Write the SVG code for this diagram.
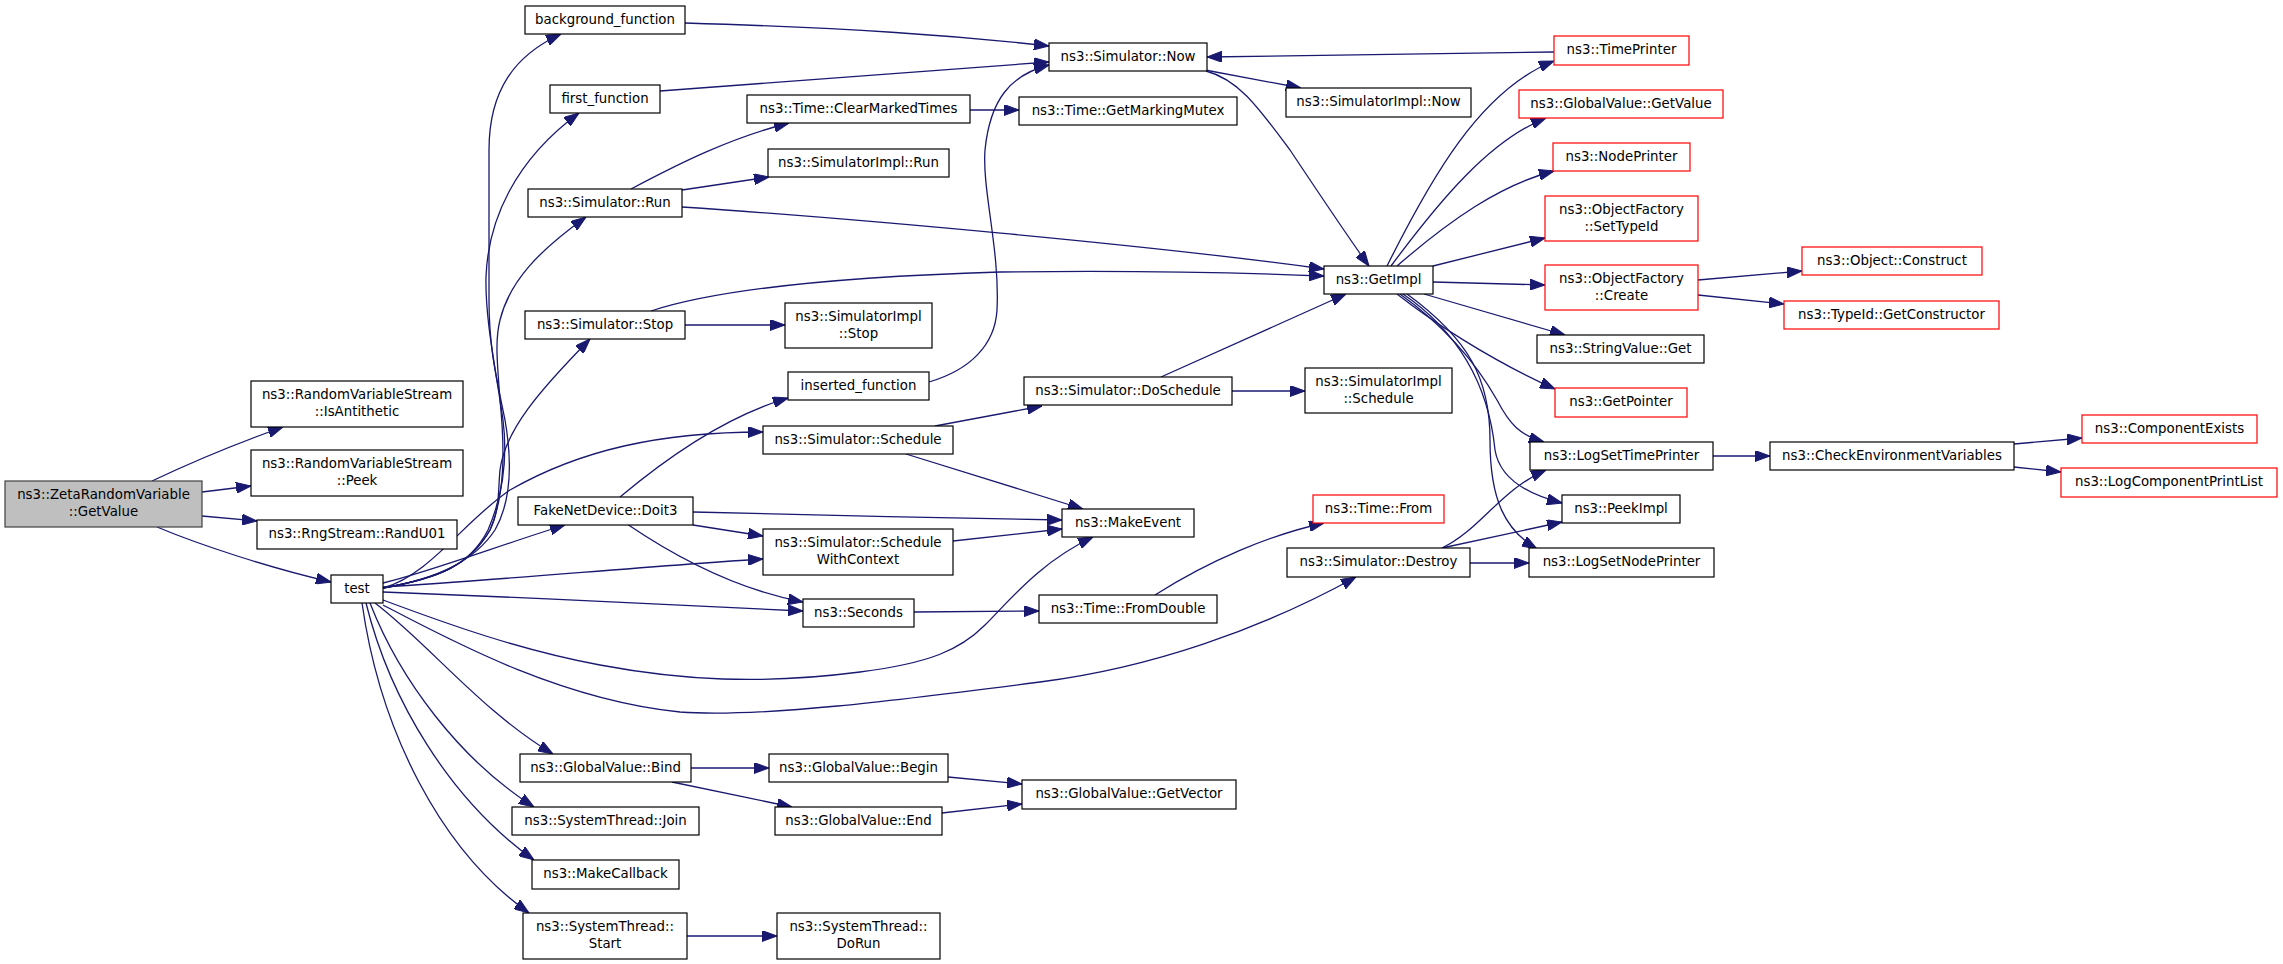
<svg xmlns="http://www.w3.org/2000/svg" width="2283" height="964" viewBox="0 0 2283 964">
<defs>
<style>
.n rect{fill:#ffffff;stroke:#000000;stroke-width:1.2}
.n.r rect{stroke:#ff0000}
.n.g rect{fill:#bfbfbf;stroke:#404040}
.n text{font-family:"DejaVu Sans","Liberation Sans",sans-serif;font-size:13.33px;fill:#000000;text-anchor:middle}
#edges path{fill:none;stroke:#191970;stroke-width:1.3;marker-end:url(#ah)}
</style>
<marker id="ah" viewBox="0 0 15 11" refX="15" refY="5.5" markerWidth="15" markerHeight="11" markerUnits="userSpaceOnUse" orient="auto">
<path d="M0,0 L15,5.5 L0,11 z" fill="#191970" stroke="#191970" stroke-width="1"/>
</marker>
</defs>
<rect x="0" y="0" width="2283" height="964" fill="#ffffff"/>
<g id="edges">
<path d="M152,481 C190,463 235,444 283,427"/>
<path d="M202,492 L251,486"/>
<path d="M202,516 L257,521"/>
<path d="M157,527 C200,545 270,568 331,582"/>
<path d="M383,588 C440,578 475,560 495,530 C512,500 512,460 505,420 C497,380 489,350 489,300 L489,150 C489,90 515,55 561,34"/>
<path d="M383,588 C440,578 470,565 488,530 C503,495 508,460 503,420 C496,370 485,320 486,277 C488,220 515,160 579,113"/>
<path d="M383,588 C440,578 470,565 490,530 C505,495 505,450 500,400 C497,360 495,340 500,320 C510,280 540,250 586,217"/>
<path d="M383,588 C440,578 470,565 490,530 C500,510 498,490 500,470 C505,430 540,390 590,339"/>
<path d="M383,588 C430,575 465,520 510,490 C580,450 660,432 763,432"/>
<path d="M383,583 C430,572 500,545 565,525"/>
<path d="M383,587 C500,580 650,566 763,559"/>
<path d="M383,592 C520,597 680,605 803,611"/>
<path d="M383,600 C450,625 520,650 600,665 C680,680 760,685 860,672 C930,663 960,650 985,625 C1010,600 1040,562 1093,537"/>
<path d="M383,605 C450,640 560,700 680,712 C760,718 900,700 1040,682 C1150,668 1260,630 1356,577"/>
<path d="M375,603 C430,645 480,710 553,754"/>
<path d="M370,603 C400,680 460,760 534,807"/>
<path d="M366,603 C390,700 450,800 534,860"/>
<path d="M362,603 C380,730 440,850 529,913"/>
<path d="M620,497 C670,455 730,415 788,398"/>
<path d="M693,512 C800,515 950,518 1062,520"/>
<path d="M693,525 L763,536"/>
<path d="M627,524 C680,560 740,590 803,602"/>
<path d="M935,426 L1042,406"/>
<path d="M906,454 L1083,509"/>
<path d="M953,541 L1062,529"/>
<path d="M914,612 L1039,611"/>
<path d="M1155,595 C1210,560 1270,535 1324,523"/>
<path d="M1161,377 L1346,294"/>
<path d="M1232,391 L1305,391"/>
<path d="M631,189 C680,163 730,138 789,123"/>
<path d="M682,190 L769,177"/>
<path d="M682,207 C850,218 1150,245 1324,269"/>
<path d="M970,110 L1019,110"/>
<path d="M651,311 C700,295 800,278 1000,272 C1150,270 1250,273 1324,276"/>
<path d="M685,325 L785,325"/>
<path d="M929,382 C970,370 995,345 997,310 C1000,250 982,190 985,150 C990,100 1010,75 1049,65"/>
<path d="M685,23 C850,28 950,35 1049,46"/>
<path d="M660,91 L1049,62"/>
<path d="M1554,52 L1207,57"/>
<path d="M1205,70 L1301,88"/>
<path d="M1206,71 C1240,80 1260,110 1290,150 C1320,195 1350,240 1369,266"/>
<path d="M1387,266 C1430,180 1480,90 1554,61"/>
<path d="M1391,266 C1440,200 1490,140 1546,118"/>
<path d="M1397,266 C1450,220 1500,185 1554,171"/>
<path d="M1433,266 L1545,238"/>
<path d="M1433,282 L1545,285"/>
<path d="M1424,294 L1565,335"/>
<path d="M1397,294 C1430,320 1490,360 1555,389"/>
<path d="M1400,294 C1450,330 1480,370 1497,400 C1510,425 1520,435 1544,442"/>
<path d="M1403,294 C1470,340 1490,400 1495,450 C1500,480 1530,495 1562,503"/>
<path d="M1407,294 C1470,340 1490,380 1490,440 C1490,500 1505,530 1537,549"/>
<path d="M1442,548 C1480,530 1500,490 1546,470"/>
<path d="M1442,548 L1562,522"/>
<path d="M1470,563 L1529,563"/>
<path d="M1698,280 L1802,271"/>
<path d="M1698,295 L1784,304"/>
<path d="M1713,456 L1770,456"/>
<path d="M2014,444 L2082,438"/>
<path d="M2014,467 L2061,472"/>
<path d="M691,768 L769,768"/>
<path d="M672,782 L792,807"/>
<path d="M948,777 L1022,784"/>
<path d="M942,813 L1022,804"/>
<path d="M687,936 L777,936"/>
</g>
<g id="n_getvalue" class="n g"><rect x="5" y="481" width="197" height="46"/><text x="103.5" y="499">ns3::ZetaRandomVariable</text><text x="103.5" y="516">::GetValue</text></g>
<g id="n_isantithetic" class="n"><rect x="251" y="381" width="212" height="46"/><text x="357" y="399">ns3::RandomVariableStream</text><text x="357" y="416">::IsAntithetic</text></g>
<g id="n_peek" class="n"><rect x="251" y="450" width="212" height="46"/><text x="357" y="468">ns3::RandomVariableStream</text><text x="357" y="485">::Peek</text></g>
<g id="n_randu01" class="n"><rect x="257" y="520" width="200" height="29"/><text x="357" y="538">ns3::RngStream::RandU01</text></g>
<g id="n_test" class="n"><rect x="331" y="575" width="52" height="28"/><text x="357" y="593">test</text></g>
<g id="n_background" class="n"><rect x="525" y="6" width="160" height="28"/><text x="605" y="24">background_function</text></g>
<g id="n_first" class="n"><rect x="550" y="85" width="110" height="28"/><text x="605" y="103">first_function</text></g>
<g id="n_simrun" class="n"><rect x="528" y="189" width="154" height="28"/><text x="605" y="207">ns3::Simulator::Run</text></g>
<g id="n_simstop" class="n"><rect x="525" y="311" width="160" height="28"/><text x="605" y="329">ns3::Simulator::Stop</text></g>
<g id="n_inserted" class="n"><rect x="788" y="372" width="141" height="28"/><text x="858.5" y="390">inserted_function</text></g>
<g id="n_schedule" class="n"><rect x="763" y="426" width="190" height="28"/><text x="858" y="444">ns3::Simulator::Schedule</text></g>
<g id="n_doit3" class="n"><rect x="518" y="497" width="175" height="28"/><text x="605.5" y="515">FakeNetDevice::Doit3</text></g>
<g id="n_swc" class="n"><rect x="763" y="529" width="190" height="46"/><text x="858" y="547">ns3::Simulator::Schedule</text><text x="858" y="564">WithContext</text></g>
<g id="n_seconds" class="n"><rect x="803" y="599" width="111" height="28"/><text x="858.5" y="617">ns3::Seconds</text></g>
<g id="n_gvbind" class="n"><rect x="520" y="754" width="171" height="28"/><text x="605.5" y="772">ns3::GlobalValue::Bind</text></g>
<g id="n_stjoin" class="n"><rect x="512" y="807" width="187" height="28"/><text x="605.5" y="825">ns3::SystemThread::Join</text></g>
<g id="n_makecb" class="n"><rect x="532" y="860" width="147" height="29"/><text x="605.5" y="878">ns3::MakeCallback</text></g>
<g id="n_ststart" class="n"><rect x="523" y="913" width="164" height="46"/><text x="605" y="931">ns3::SystemThread::</text><text x="605" y="948">Start</text></g>
<g id="n_clearmarked" class="n"><rect x="747" y="95" width="223" height="28"/><text x="858.5" y="113">ns3::Time::ClearMarkedTimes</text></g>
<g id="n_simimplrun" class="n"><rect x="768" y="149" width="181" height="28"/><text x="858.5" y="167">ns3::SimulatorImpl::Run</text></g>
<g id="n_simimplstop" class="n"><rect x="785" y="303" width="147" height="45"/><text x="858.5" y="321">ns3::SimulatorImpl</text><text x="858.5" y="338">::Stop</text></g>
<g id="n_gvbegin" class="n"><rect x="769" y="754" width="179" height="28"/><text x="858.5" y="772">ns3::GlobalValue::Begin</text></g>
<g id="n_gvend" class="n"><rect x="775" y="807" width="167" height="28"/><text x="858.5" y="825">ns3::GlobalValue::End</text></g>
<g id="n_dorun" class="n"><rect x="777" y="913" width="163" height="46"/><text x="858.5" y="931">ns3::SystemThread::</text><text x="858.5" y="948">DoRun</text></g>
<g id="n_simnow" class="n"><rect x="1049" y="43" width="158" height="28"/><text x="1128" y="61">ns3::Simulator::Now</text></g>
<g id="n_markmutex" class="n"><rect x="1019" y="97" width="218" height="28"/><text x="1128" y="115">ns3::Time::GetMarkingMutex</text></g>
<g id="n_doschedule" class="n"><rect x="1024" y="377" width="208" height="28"/><text x="1128" y="395">ns3::Simulator::DoSchedule</text></g>
<g id="n_makeevent" class="n"><rect x="1062" y="509" width="132" height="28"/><text x="1128" y="527">ns3::MakeEvent</text></g>
<g id="n_fromdouble" class="n"><rect x="1039" y="595" width="178" height="28"/><text x="1128" y="613">ns3::Time::FromDouble</text></g>
<g id="n_getvector" class="n"><rect x="1022" y="780" width="214" height="29"/><text x="1129" y="798">ns3::GlobalValue::GetVector</text></g>
<g id="n_simimplnow" class="n"><rect x="1286" y="88" width="185" height="29"/><text x="1378.5" y="106">ns3::SimulatorImpl::Now</text></g>
<g id="n_getimpl" class="n"><rect x="1324" y="266" width="109" height="28"/><text x="1378.5" y="284">ns3::GetImpl</text></g>
<g id="n_simimplsched" class="n"><rect x="1305" y="368" width="147" height="45"/><text x="1378.5" y="386">ns3::SimulatorImpl</text><text x="1378.5" y="403">::Schedule</text></g>
<g id="n_timefrom" class="n r"><rect x="1313" y="495" width="131" height="28"/><text x="1378.5" y="513">ns3::Time::From</text></g>
<g id="n_destroy" class="n"><rect x="1287" y="548" width="183" height="29"/><text x="1378.5" y="566">ns3::Simulator::Destroy</text></g>
<g id="n_timeprinter" class="n r"><rect x="1554" y="36" width="135" height="29"/><text x="1621.5" y="54">ns3::TimePrinter</text></g>
<g id="n_gvgetvalue" class="n r"><rect x="1519" y="90" width="204" height="28"/><text x="1621" y="108">ns3::GlobalValue::GetValue</text></g>
<g id="n_nodeprinter" class="n r"><rect x="1553" y="143" width="137" height="28"/><text x="1621.5" y="161">ns3::NodePrinter</text></g>
<g id="n_ofsettypeid" class="n r"><rect x="1545" y="196" width="153" height="45"/><text x="1621.5" y="214">ns3::ObjectFactory</text><text x="1621.5" y="231">::SetTypeId</text></g>
<g id="n_ofcreate" class="n r"><rect x="1545" y="265" width="153" height="45"/><text x="1621.5" y="283">ns3::ObjectFactory</text><text x="1621.5" y="300">::Create</text></g>
<g id="n_svget" class="n"><rect x="1537" y="335" width="167" height="28"/><text x="1620.5" y="353">ns3::StringValue::Get</text></g>
<g id="n_getpointer" class="n r"><rect x="1555" y="388" width="132" height="29"/><text x="1621" y="406">ns3::GetPointer</text></g>
<g id="n_logsettime" class="n"><rect x="1530" y="442" width="183" height="28"/><text x="1621.5" y="460">ns3::LogSetTimePrinter</text></g>
<g id="n_peekimpl" class="n"><rect x="1562" y="495" width="118" height="28"/><text x="1621" y="513">ns3::PeekImpl</text></g>
<g id="n_logsetnode" class="n"><rect x="1529" y="548" width="185" height="29"/><text x="1621.5" y="566">ns3::LogSetNodePrinter</text></g>
<g id="n_construct" class="n r"><rect x="1802" y="247" width="180" height="28"/><text x="1892" y="265">ns3::Object::Construct</text></g>
<g id="n_getconstructor" class="n r"><rect x="1784" y="301" width="215" height="28"/><text x="1891.5" y="319">ns3::TypeId::GetConstructor</text></g>
<g id="n_checkenv" class="n"><rect x="1770" y="442" width="244" height="28"/><text x="1892" y="460">ns3::CheckEnvironmentVariables</text></g>
<g id="n_compexists" class="n r"><rect x="2082" y="415" width="175" height="28"/><text x="2169.5" y="433">ns3::ComponentExists</text></g>
<g id="n_logcompprint" class="n r"><rect x="2061" y="468" width="216" height="29"/><text x="2169" y="486">ns3::LogComponentPrintList</text></g>
</svg>
